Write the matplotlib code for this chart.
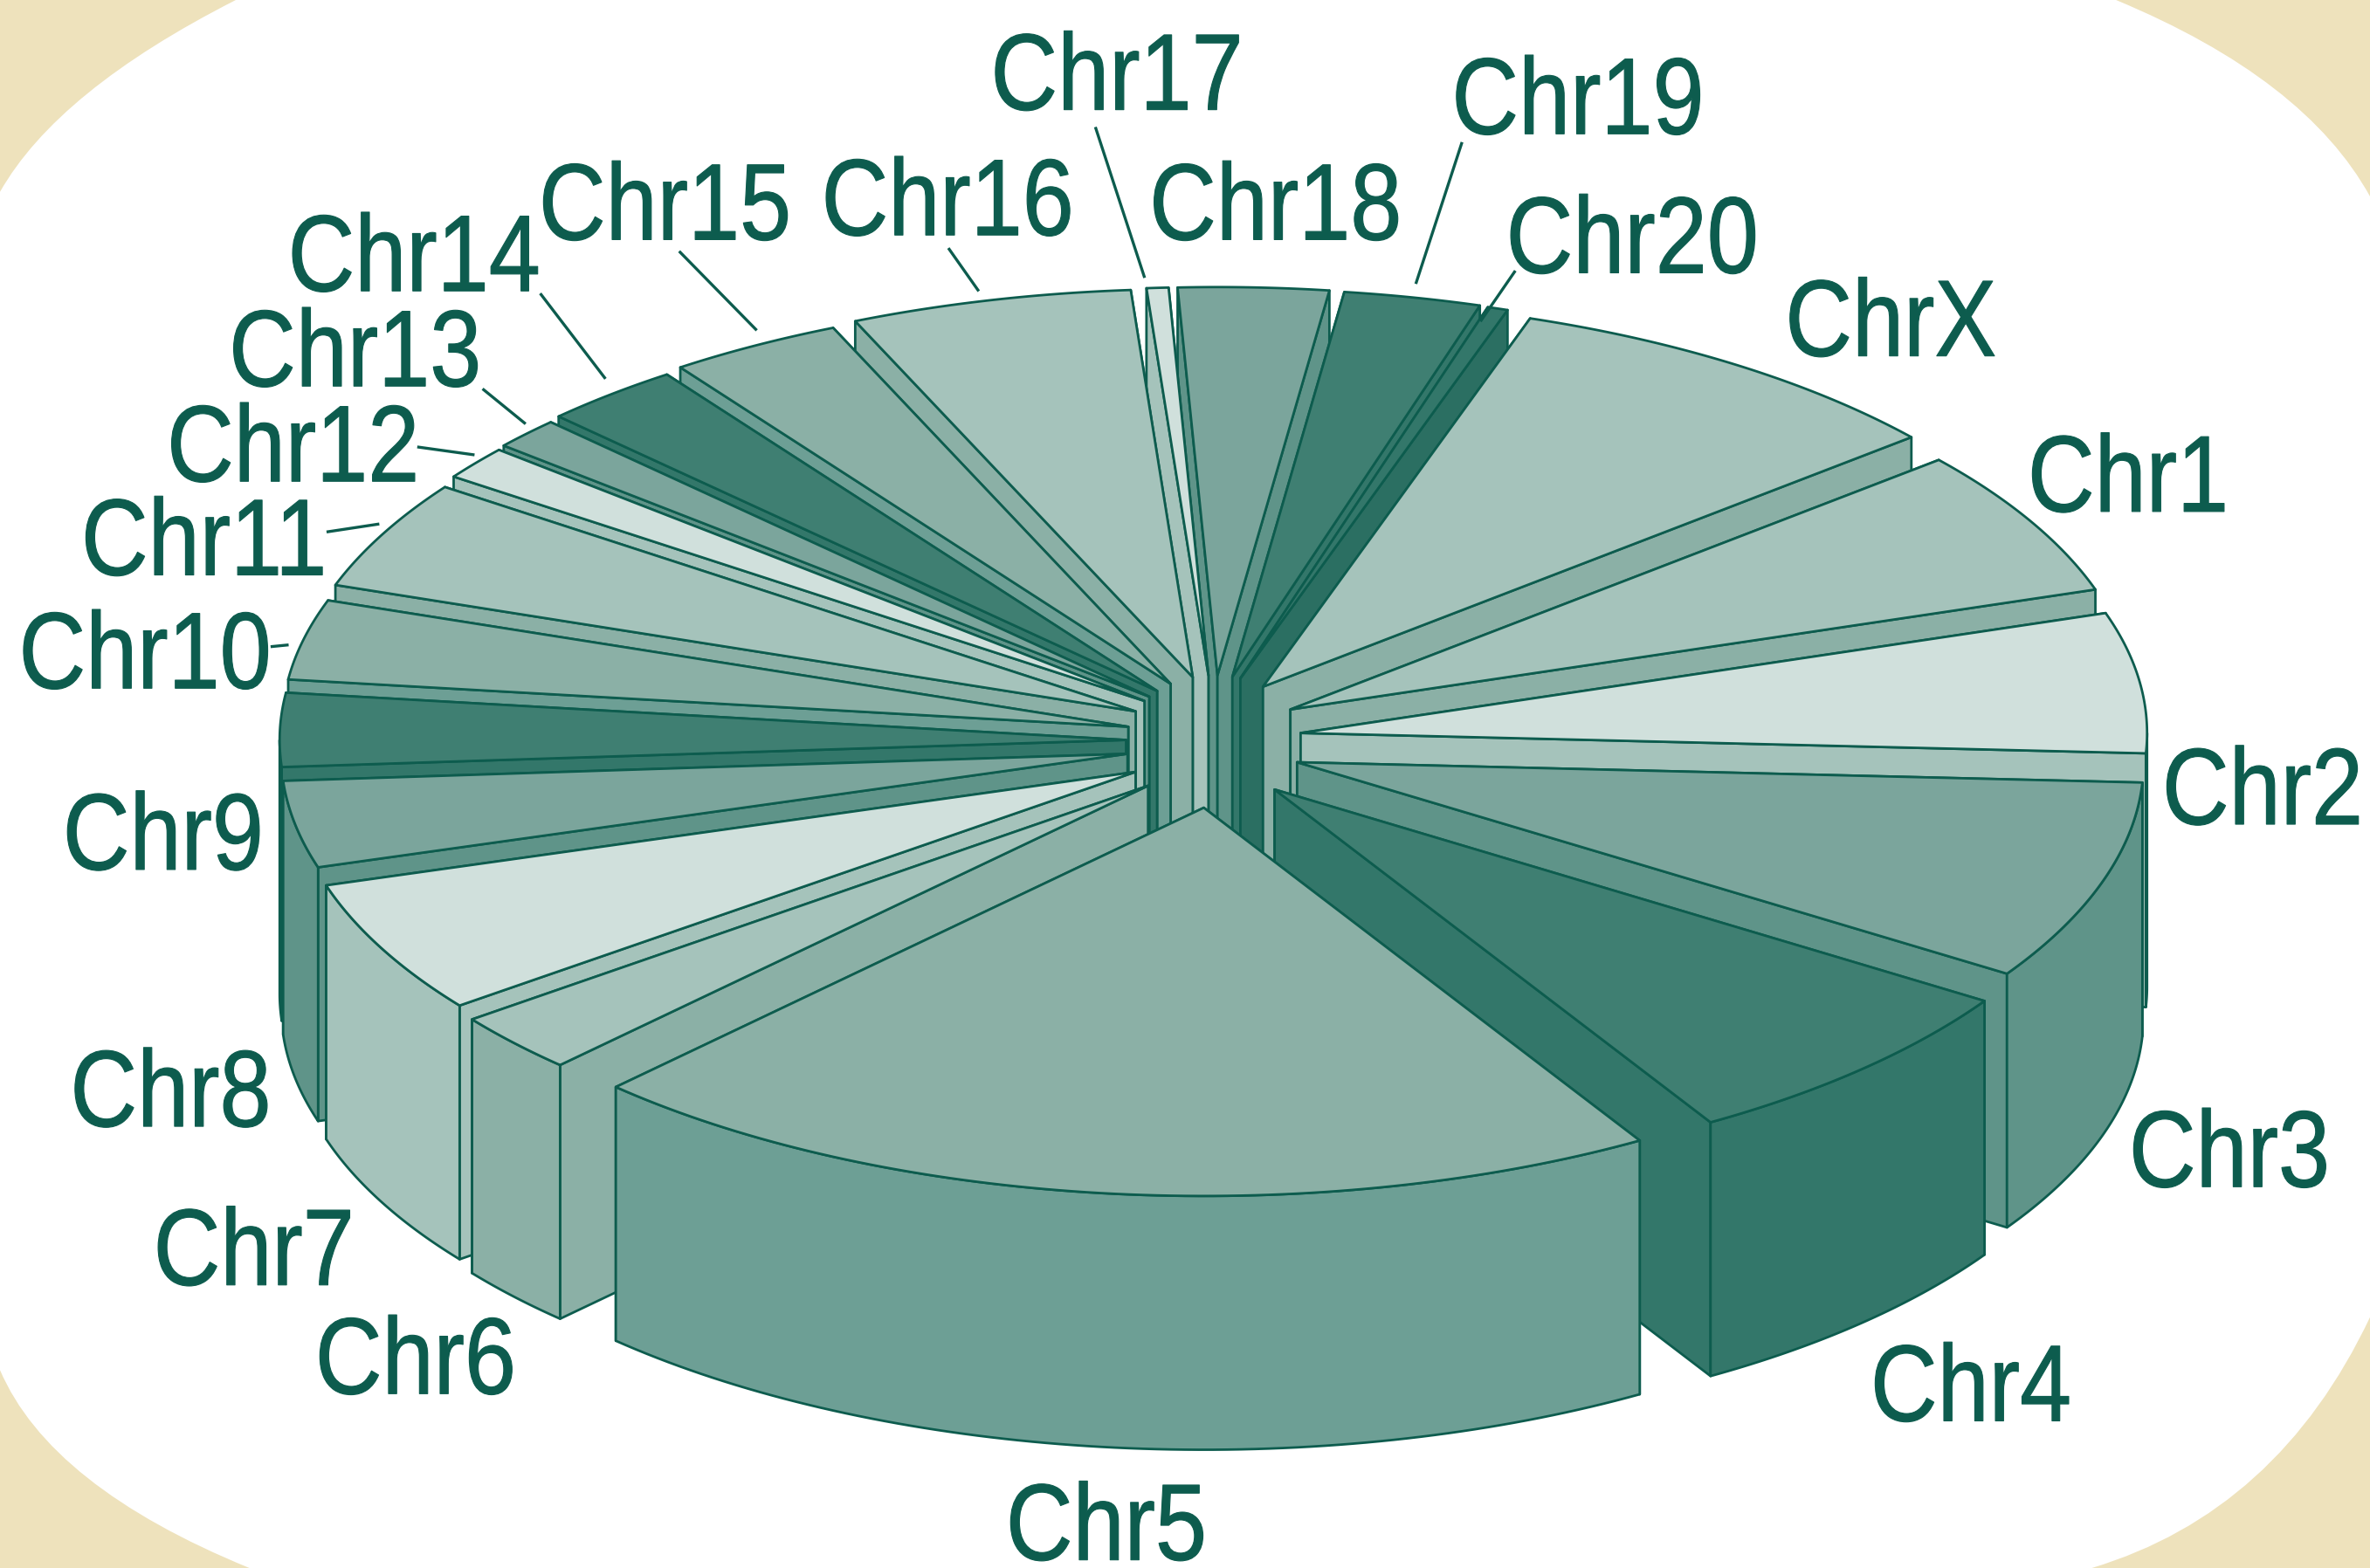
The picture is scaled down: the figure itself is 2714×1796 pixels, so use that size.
import numpy as np
import matplotlib
matplotlib.use("Agg")
import matplotlib.pyplot as plt
from matplotlib.patches import PathPatch, Polygon
from matplotlib.patheffects import AbstractPathEffect
from matplotlib.path import Path
from matplotlib.transforms import Affine2D

# ===============================================< DATA >===============================================================

LABELS = ["Chr1", "Chr2", "Chr3", "Chr4", "Chr5", "Chr6", "Chr7", "Chr8", "Chr9", "Chr10", "Chr11", "Chr12", "Chr13",
          "Chr14", "Chr15", "Chr16", "Chr17", "Chr18", "Chr19", "Chr20", "ChrX"]
SHARES = [22, 21, 30, 26, 75, 9, 20, 13, 11, 12, 16.3, 5, 4.7, 9.6, 11.9, 19.3, 1.5, 10.3, 9.4, 1.4, 31.6]

# ===============================================< STYLE >==============================================================

TOPS = ["#a5c3bb", "#d0e0dc", "#7ba59c", "#3f7f72", "#8bb0a6", "#a5c3bb", "#d0e0dc", "#7ba59c", "#3f7f72", "#8bb0a6",
        "#a5c3bb", "#d0e0dc", "#7ba59c", "#3f7f72", "#8bb0a6", "#a5c3bb", "#d0e0dc", "#7ba59c", "#3f7f72", "#33776a",
        "#a5c3bb"]
SHADES = {"#a5c3bb": "#8bb0a6", "#d0e0dc": "#a5c3bb", "#7ba59c": "#5f9489", "#3f7f72": "#33776a",
          "#8bb0a6": "#6d9f95", "#33776a": "#2b6f62"}
INK = "#0d5c4e"
CREAM = "#eee2bc"

# label centres and leader lines, in the units of the axes below
LABEL_X = [1408, 1497, 1475, 1304, 732, 275, 168, 113, 108, 96, 135, 194, 235, 274, 440, 627, 739, 844, 1044, 1080, 1251]
LABEL_Y = [320, 527, 767, 922, 1014, 904, 832, 727, 557, 437, 362, 300, 237, 174, 140, 137, 54, 140, 70, 162, 217]
LEADERS = {"Chr10": (180, 428, 190, 427), "Chr11": (217, 352, 250, 347), "Chr12": (277, 296, 313, 301),
           "Chr13": (320, 258, 347, 280), "Chr14": (358, 195, 400, 250), "Chr15": (450, 167, 500, 218),
           "Chr16": (628, 165, 647, 192), "Chr17": (725, 85, 757, 183), "Chr19": (967, 95, 937, 187),
           "Chr20": (1002, 180, 980, 212)}

CX, CY = 803, 491
RX, RY = 560, 257
DEPTH = 168
EXPLODE_X, EXPLODE_Y = 58, 44
START = 50
LW = 2.0
LABEL_DROP = 8

# ===============================================< HELPERS >============================================================


class Tall(AbstractPathEffect):
    # The reference lettering is narrow: stretch the glyphs upward about the text anchor and thicken them a little
    def __init__(self, x, y, drop, sx=0.98, sy=1.15, stroke=0.8):
        super().__init__()
        self.x, self.y, self.drop, self.sx, self.sy, self.stroke = x, y, drop, sx, sy, stroke

    def draw_path(self, renderer, gc, tpath, affine, rgbFace=None):
        stretch = Affine2D().translate(-self.x, -self.y).scale(self.sx, self.sy).translate(self.x, self.y - self.drop)
        gc0 = renderer.new_gc()
        gc0.copy_properties(gc)
        gc0.set_linewidth(self.stroke)
        gc0.set_foreground(INK)
        renderer.draw_path(gc0, tpath, affine + stretch, rgbFace)
        gc0.restore()


def rim(ax_, ay_, phi):
    phi = np.radians(phi)
    return ax_ + RX * np.sin(phi), ay_ - RY * np.cos(phi)


def add_poly(xs, ys, color):
    ax.add_patch(Polygon(np.column_stack([xs, ys]), closed=True, facecolor=color, edgecolor=INK, linewidth=LW,
                         joinstyle="round"))


# ===============================================< FIGURE >=============================================================

fig = plt.figure(figsize=(27.14, 17.96), dpi=100, facecolor=CREAM)
ax = fig.add_axes([0, 0, 1, 1])
ax.set_xlim(0, 1568)
ax.set_ylim(1038, 0)
ax.axis("off")

# White panel with the cut corners
verts = [(156, 0), (1400, 0), (1525, 52), (1568, 130), (1568, 872), (1507, 1001), (1384, 1038), (165, 1038), (33, 984),
         (0, 907), (0, 127), (38, 60), (156, 0)]
codes = [Path.MOVETO, Path.LINETO, Path.CURVE3, Path.CURVE3, Path.LINETO, Path.CURVE3, Path.CURVE3, Path.LINETO,
         Path.CURVE3, Path.CURVE3, Path.LINETO, Path.CURVE3, Path.CURVE3]
ax.add_patch(PathPatch(Path(verts, codes), facecolor="white", edgecolor="none"))

# Slices, back to front
edges = START + np.concatenate([[0], np.cumsum(SHARES)]) * 360.0 / np.sum(SHARES)
mids = (edges[:-1] + edges[1:]) / 2
for i in np.argsort(-np.cos(np.radians(mids))):
    a0, a1, mid = edges[i], edges[i + 1], mids[i]
    apex_x = CX + EXPLODE_X * np.sin(np.radians(mid))
    apex_y = CY - EXPLODE_Y * np.cos(np.radians(mid))
    top, shade = TOPS[i], SHADES[TOPS[i]]

    # radial walls, the lower one last
    walls = []
    for a in (a0, a1):
        x, y = rim(apex_x, apex_y, a)
        walls.append((y, [apex_x, x, x, apex_x], [apex_y, y, y + DEPTH, apex_y + DEPTH]))
    for _, xs, ys in sorted(walls, key=lambda w: w[0]):
        add_poly(xs, ys, shade)

    # outer wall, only the part turned to the viewer
    for lo, hi in ((90, 270), (450, 630)):
        w0, w1 = max(a0, lo), min(a1, hi)
        if w1 > w0:
            t = np.linspace(w0, w1, 80)
            x, y = rim(apex_x, apex_y, t)
            outer = "#a5c3bb" if LABELS[i] == "Chr7" else shade
            add_poly(np.r_[x, x[::-1]], np.r_[y, y[::-1] + DEPTH], outer)

    # top face
    t = np.linspace(a0, a1, 80)
    x, y = rim(apex_x, apex_y, t)
    add_poly(np.r_[apex_x, x], np.r_[apex_y, y], top)

# Labels
unit = fig.get_figheight() * fig.dpi / 1038
for name, lx, ly in zip(LABELS, LABEL_X, LABEL_Y):
    px, py = ax.transData.transform((lx, ly - LABEL_DROP))
    ax.text(lx, ly - LABEL_DROP, name, ha="center", va="center", color=INK, fontsize=78, family="Liberation Sans",
            path_effects=[Tall(px, py, LABEL_DROP * unit)])
for x0, y0, x1, y1 in LEADERS.values():
    ax.plot([x0, x1], [y0, y1], color=INK, linewidth=2.4)

fig.savefig("out.png", dpi=100, facecolor=CREAM)
